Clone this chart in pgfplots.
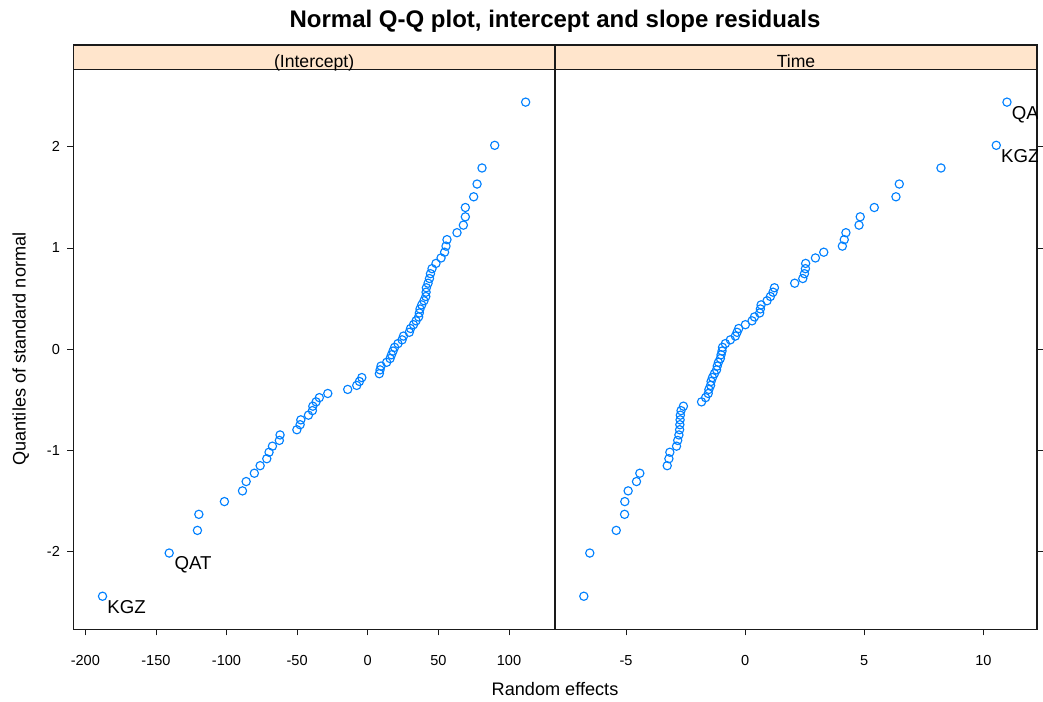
\documentclass[border=0pt]{standalone}
\usepackage{fontspec}
\setmainfont{Liberation Sans}
\usepackage{pgfplots}
\usepackage{pgfplotstable}
\pgfplotsset{compat=1.18}

\definecolor{ptblue}{HTML}{0080FF}
\definecolor{stripbg}{HTML}{FFE5CC}
\definecolor{frame}{HTML}{1A1A1A}

% Sorted random effects against normal quantiles (68 groups)
\pgfplotstableread{
q       int     time
-2.4396 -187.8  -6.77
-2.0131 -140.6  -6.52
-1.7894 -120.6  -5.41
-1.6308 -119.6  -5.06
-1.5049 -101.5  -5.05
-1.3991 -88.7   -4.91
-1.3071 -86.1   -4.56
-1.2250 -80.3   -4.42
-1.1503 -76.2   -3.27
-1.0816 -71.5   -3.20
-1.0177 -69.9   -3.16
-0.9577 -67.5   -2.88
-0.9009 -62.6   -2.83
-0.8469 -62.1   -2.78
-0.7953 -50.2   -2.75
-0.7456 -47.9   -2.74
-0.6978 -47.4   -2.73
-0.6515 -42.0   -2.72
-0.6066 -39.2   -2.69
-0.5629 -38.9   -2.59
-0.5202 -36.6   -1.83
-0.4784 -34.3   -1.66
-0.4375 -28.3   -1.55
-0.3973 -14.2   -1.52
-0.3577 -7.8    -1.45
-0.3186 -5.9    -1.43
-0.2801 -4.2    -1.37
-0.2419 8.2     -1.29
-0.2042 8.7     -1.20
-0.1666 9.4     -1.17
-0.1294 13.4    -1.12
-0.0923 15.8    -1.04
-0.0553 16.8    -1.01
-0.0184 17.9    -0.97
0.0184  19.0    -0.95
0.0553  21.4    -0.83
0.0923  24.3    -0.62
0.1294  25.3    -0.41
0.1666  29.4    -0.34
0.2042  30.3    -0.27
0.2419  32.4    0.01
0.2801  34.2    0.29
0.3186  36.0    0.39
0.3577  36.5    0.61
0.3973  37.0    0.64
0.4375  38.2    0.67
0.4784  39.8    0.92
0.5202  41.1    1.06
0.5629  41.3    1.17
0.6066  41.5    1.23
0.6515  42.7    2.08
0.6978  43.7    2.42
0.7456  44.4    2.49
0.7953  45.5    2.53
0.8469  48.3    2.54
0.9009  51.9    2.95
0.9577  54.4    3.30
1.0177  55.4    4.08
1.0816  56.1    4.16
1.1503  63.2    4.23
1.2250  67.7    4.78
1.3071  69.1    4.83
1.3991  69.1    5.42
1.5049  75.0    6.33
1.6308  77.4    6.47
1.7894  80.9    8.22
2.0131  89.9    10.54
2.4396  111.8   10.99
}\qq

\pgfplotsset{
  panel/.style={
    scale only axis,
    width=361.5pt, height=420pt,
    anchor=south west,
    ymin=-2.766, ymax=2.764,
    axis line style={frame, line width=0.8pt},
    tick align=outside,
    major tick length=4.5pt,
    tick style={frame, line width=0.6pt},
    xtick pos=bottom,
    tick label style={font=\fontsize{10.9}{13}\selectfont, text=black},
    xticklabel style={yshift=-11.5pt},
    yticklabel style={xshift=-2pt},
    ytick={-2,-1,0,1,2},
  },
  qq/.style={only marks, mark=o, mark size=3.1pt,
    mark options={ptblue, line width=0.85pt}},
}
\tikzset{
  tag/.style={anchor=north west, inner sep=0pt,
    font=\fontsize{14}{16}\selectfont, text=black},
}

\begin{document}
\begin{tikzpicture}
\path[use as bounding box] (0,0) rectangle (782.25pt,526.5pt);

% (Intercept) panel
\begin{axis}[panel, name=L, at={(54.975pt,54.525pt)},
  xmin=-208.5, xmax=132.8,
  xtick={-200,-150,-100,-50,0,50,100},
  xticklabels={-200,-150,-100,-50,0,50,100},
  yticklabels={-2,-1,0,1,2},
  ytick pos=left]
  \addplot[qq] table[x=int, y=q] {\qq};
  \node[tag, xshift=3.4pt, yshift=-2.6pt] at (axis cs:-187.8,-2.4396) {KGZ};
  \node[tag, xshift=3.8pt, yshift=-2.4pt] at (axis cs:-140.6,-2.0131) {QAT};
\end{axis}

% Time panel
\begin{axis}[panel, name=R, at={(416.25pt,54.525pt)},
  xmin=-7.98, xmax=12.25,
  xtick={-5,0,5,10},
  xticklabels={-5,0,5,10},
  yticklabels={},
  ytick pos=right]
  \addplot[qq] table[x=time, y=q] {\qq};
  \begin{scope}
    \clip (rel axis cs:0,0) rectangle (rel axis cs:1,1);
    \node[tag, xshift=3.4pt, yshift=-3.2pt] at (axis cs:10.99,2.4396) {QAT};
    \node[tag, xshift=3.4pt, yshift=-3.2pt] at (axis cs:10.54,2.0131) {KGZ};
  \end{scope}
\end{axis}

% strips
\draw[frame, line width=0.8pt, fill=stripbg] (54.975pt,474.5pt) rectangle (416.25pt,492.75pt);
\draw[frame, line width=0.8pt, fill=stripbg] (416.25pt,474.5pt) rectangle (777.75pt,492.75pt);
\node[anchor=base, inner sep=0pt, font=\fontsize{13.2}{15}\selectfont] at (235.6pt,475.6pt) {(Intercept)};
\node[anchor=base, inner sep=0pt, font=\fontsize{13.2}{15}\selectfont] at (597pt,475.6pt) {Time};

% titles
\node[anchor=base, inner sep=0pt, font=\fontsize{18}{21}\bfseries] at (416.25pt,506pt)
  {Normal Q-Q plot, intercept and slope residuals};
\node[anchor=base, inner sep=0pt, font=\fontsize{13.6}{16}\selectfont] at (416.25pt,5pt)
  {Random effects};
\node[rotate=90, inner sep=0pt, font=\fontsize{13.6}{16}\selectfont] at (15.5pt,264.75pt)
  {Quantiles of standard normal};
\end{tikzpicture}
\end{document}
